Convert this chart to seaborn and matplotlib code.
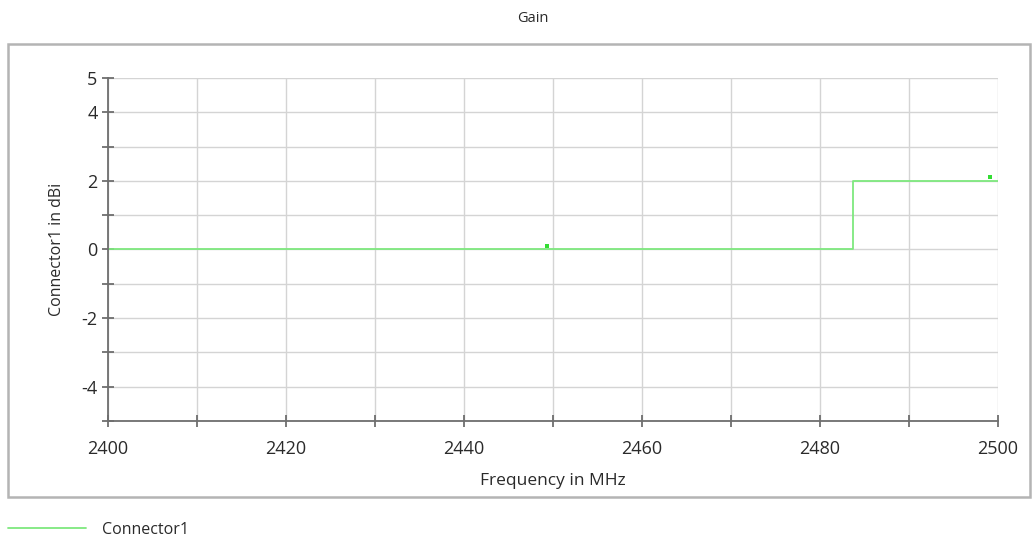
import matplotlib
matplotlib.use("Agg")
import matplotlib.pyplot as plt
import matplotlib.patches as mpatches
import seaborn as sns
import pandas as pd

sns.set_style("white")
plt.rcParams['font.family'] = ['Open Sans', 'DejaVu Sans']

# step trace (steps-post)
freq = [2400, 2483.7, 2500]
gain = [0, 2, 2]
# sample markers
mark_freq = [2449.3, 2499.1]
mark_gain = [0.1, 2.1]

x_ticks = [2400, 2410, 2420, 2430, 2440, 2450, 2460, 2470, 2480, 2490, 2500]
x_labels = ['2400', '', '2420', '', '2440', '', '2460', '', '2480', '', '2500']
y_ticks = [-5, -4, -3, -2, -1, 0, 1, 2, 3, 4, 5]
y_labels = ['', '-4', '', '-2', '', '0', '', '2', '', '4', '5']

df = pd.DataFrame({'Frequency': freq, 'Gain': gain})
pts = pd.DataFrame({'Frequency': mark_freq, 'Gain': mark_gain})

fig = plt.figure(figsize=(10.34, 5.49), dpi=100)
frame = mpatches.Rectangle((0.0077, 0.0947), 0.988, 0.8252, transform=fig.transFigure,
                           facecolor='none', edgecolor='#b4b4b4', linewidth=1.8, zorder=-1)
fig.patches.append(frame)

ax = fig.add_axes([0.1044, 0.2332, 0.8607, 0.6247])
ax.set_facecolor('none')

line_col = '#7ee87e'
sns.lineplot(data=df, x='Frequency', y='Gain', ax=ax, color=line_col, linewidth=1.3,
             drawstyle='steps-post', label='Connector1', legend=False)
sns.scatterplot(data=pts, x='Frequency', y='Gain', ax=ax, color='#33dd33', marker='s',
                s=12, linewidth=0, legend=False, zorder=3)

ax.set_xlim(2400, 2500)
ax.set_ylim(-5, 5)
ax.set_xticks(x_ticks)
ax.set_xticklabels(x_labels)
ax.set_yticks(y_ticks)
ax.set_yticklabels(y_labels)
ax.grid(True, color='#d4d4d4', linewidth=1)
ax.set_axisbelow(True)
for s in ['top', 'right']:
    ax.spines[s].set_visible(False)
for s in ['left', 'bottom']:
    ax.spines[s].set_color('#6e6e6e')
    ax.spines[s].set_linewidth(1.3)
ax.tick_params(axis='both', bottom=True, left=True, direction='inout', length=9, width=1.3,
               color='#6e6e6e', labelsize=13, labelcolor='#2a2a2a')
ax.tick_params(axis='x', pad=9)
ax.tick_params(axis='y', pad=3)

ax.set_xlabel('Frequency in MHz', fontsize=12.5, color='#2a2a2a', labelpad=11)
ax.set_ylabel('Connector1 in dBi', fontsize=11.5, color='#2a2a2a', labelpad=12)
fig.text(0.5155, 0.967, 'Gain', ha='center', va='center', fontsize=10.5, color='#2a2a2a')

leg_line = ax.get_lines()[0]
fig.legend([leg_line], ['Connector1'], loc='center left', bbox_to_anchor=(-0.006, 0.035),
           frameon=False, fontsize=11.5, handlelength=4.9, handletextpad=1.0,
           labelcolor='#2a2a2a')

fig.savefig('out.png', dpi=100)
